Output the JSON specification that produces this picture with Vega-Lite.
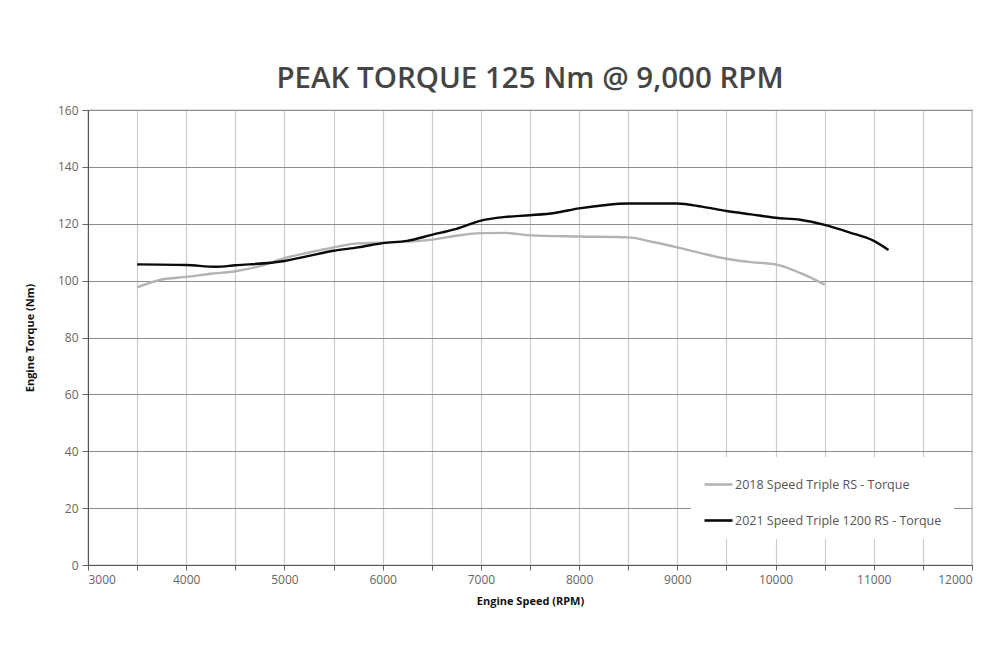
{
  "$schema": "https://vega.github.io/schema/vega-lite/v6.json",
  "description": "Peak torque curves, 2018 vs 2021 Speed Triple",
  "autosize": "none",
  "padding": {"left": 88, "top": 110, "right": 28, "bottom": 101},
  "width": 884,
  "height": 455,
  "background": "white",
  "title": {
    "text": "PEAK TORQUE 125 Nm @ 9,000 RPM",
    "font": "Open Sans",
    "fontSize": 29.5,
    "fontWeight": 600,
    "color": "#454545",
    "anchor": "middle",
    "offset": 10
  },
  "data": {
    "values": [
      {"rpm": 3500, "torque": 97.6, "model": "2018 Speed Triple RS - Torque"},
      {"rpm": 3750, "torque": 100.4, "model": "2018 Speed Triple RS - Torque"},
      {"rpm": 4000, "torque": 101.3, "model": "2018 Speed Triple RS - Torque"},
      {"rpm": 4250, "torque": 102.4, "model": "2018 Speed Triple RS - Torque"},
      {"rpm": 4500, "torque": 103.3, "model": "2018 Speed Triple RS - Torque"},
      {"rpm": 4750, "torque": 105.1, "model": "2018 Speed Triple RS - Torque"},
      {"rpm": 5000, "torque": 107.9, "model": "2018 Speed Triple RS - Torque"},
      {"rpm": 5250, "torque": 109.9, "model": "2018 Speed Triple RS - Torque"},
      {"rpm": 5500, "torque": 111.7, "model": "2018 Speed Triple RS - Torque"},
      {"rpm": 5750, "torque": 113.1, "model": "2018 Speed Triple RS - Torque"},
      {"rpm": 6000, "torque": 113.3, "model": "2018 Speed Triple RS - Torque"},
      {"rpm": 6250, "torque": 113.7, "model": "2018 Speed Triple RS - Torque"},
      {"rpm": 6500, "torque": 114.4, "model": "2018 Speed Triple RS - Torque"},
      {"rpm": 6750, "torque": 115.8, "model": "2018 Speed Triple RS - Torque"},
      {"rpm": 7000, "torque": 116.7, "model": "2018 Speed Triple RS - Torque"},
      {"rpm": 7250, "torque": 116.8, "model": "2018 Speed Triple RS - Torque"},
      {"rpm": 7500, "torque": 115.9, "model": "2018 Speed Triple RS - Torque"},
      {"rpm": 8000, "torque": 115.5, "model": "2018 Speed Triple RS - Torque"},
      {"rpm": 8500, "torque": 115.2, "model": "2018 Speed Triple RS - Torque"},
      {"rpm": 8750, "torque": 113.6, "model": "2018 Speed Triple RS - Torque"},
      {"rpm": 9000, "torque": 111.7, "model": "2018 Speed Triple RS - Torque"},
      {"rpm": 9250, "torque": 109.6, "model": "2018 Speed Triple RS - Torque"},
      {"rpm": 9500, "torque": 107.7, "model": "2018 Speed Triple RS - Torque"},
      {"rpm": 9750, "torque": 106.5, "model": "2018 Speed Triple RS - Torque"},
      {"rpm": 10000, "torque": 105.7, "model": "2018 Speed Triple RS - Torque"},
      {"rpm": 10250, "torque": 102.7, "model": "2018 Speed Triple RS - Torque"},
      {"rpm": 10500, "torque": 98.6, "model": "2018 Speed Triple RS - Torque"},
      {"rpm": 3500, "torque": 105.7, "model": "2021 Speed Triple 1200 RS - Torque"},
      {"rpm": 4000, "torque": 105.5, "model": "2021 Speed Triple 1200 RS - Torque"},
      {"rpm": 4300, "torque": 104.9, "model": "2021 Speed Triple 1200 RS - Torque"},
      {"rpm": 4500, "torque": 105.4, "model": "2021 Speed Triple 1200 RS - Torque"},
      {"rpm": 5000, "torque": 106.9, "model": "2021 Speed Triple 1200 RS - Torque"},
      {"rpm": 5250, "torque": 108.7, "model": "2021 Speed Triple 1200 RS - Torque"},
      {"rpm": 5500, "torque": 110.5, "model": "2021 Speed Triple 1200 RS - Torque"},
      {"rpm": 5750, "torque": 111.7, "model": "2021 Speed Triple 1200 RS - Torque"},
      {"rpm": 6000, "torque": 113.2, "model": "2021 Speed Triple 1200 RS - Torque"},
      {"rpm": 6250, "torque": 114.0, "model": "2021 Speed Triple 1200 RS - Torque"},
      {"rpm": 6500, "torque": 116.1, "model": "2021 Speed Triple 1200 RS - Torque"},
      {"rpm": 6750, "torque": 118.2, "model": "2021 Speed Triple 1200 RS - Torque"},
      {"rpm": 7000, "torque": 121.1, "model": "2021 Speed Triple 1200 RS - Torque"},
      {"rpm": 7250, "torque": 122.4, "model": "2021 Speed Triple 1200 RS - Torque"},
      {"rpm": 7500, "torque": 123.0, "model": "2021 Speed Triple 1200 RS - Torque"},
      {"rpm": 7750, "torque": 123.8, "model": "2021 Speed Triple 1200 RS - Torque"},
      {"rpm": 8000, "torque": 125.4, "model": "2021 Speed Triple 1200 RS - Torque"},
      {"rpm": 8250, "torque": 126.5, "model": "2021 Speed Triple 1200 RS - Torque"},
      {"rpm": 8500, "torque": 127.1, "model": "2021 Speed Triple 1200 RS - Torque"},
      {"rpm": 8750, "torque": 127.1, "model": "2021 Speed Triple 1200 RS - Torque"},
      {"rpm": 9000, "torque": 127.1, "model": "2021 Speed Triple 1200 RS - Torque"},
      {"rpm": 9250, "torque": 126.0, "model": "2021 Speed Triple 1200 RS - Torque"},
      {"rpm": 9500, "torque": 124.5, "model": "2021 Speed Triple 1200 RS - Torque"},
      {"rpm": 9750, "torque": 123.3, "model": "2021 Speed Triple 1200 RS - Torque"},
      {"rpm": 10000, "torque": 122.1, "model": "2021 Speed Triple 1200 RS - Torque"},
      {"rpm": 10250, "torque": 121.4, "model": "2021 Speed Triple 1200 RS - Torque"},
      {"rpm": 10500, "torque": 119.6, "model": "2021 Speed Triple 1200 RS - Torque"},
      {"rpm": 10750, "torque": 117.0, "model": "2021 Speed Triple 1200 RS - Torque"},
      {"rpm": 11000, "torque": 114.0, "model": "2021 Speed Triple 1200 RS - Torque"},
      {"rpm": 11150, "torque": 110.8, "model": "2021 Speed Triple 1200 RS - Torque"}
    ]
  },
  "mark": {"type": "line", "interpolate": "monotone", "strokeWidth": 2.4},
  "encoding": {
    "x": {
      "field": "rpm",
      "type": "quantitative",
      "scale": {"domain": [3000, 12000], "nice": false},
      "axis": {
        "title": "Engine Speed (RPM)",
        "values": [3000, 3500, 4000, 4500, 5000, 5500, 6000, 6500, 7000, 7500, 8000, 8500, 9000, 9500, 10000, 10500, 11000, 11500, 12000],
        "labelExpr": "datum.value % 1000 == 0 ? format(datum.value, 'd') : ''",
        "gridColor": "#cccccc",
        "gridWidth": 1.2,
        "domainColor": "#555555",
        "tickColor": "#666666",
        "tickSize": 5,
        "labelFont": "Open Sans",
        "labelFontSize": 12,
        "labelColor": "#666666",
        "labelPadding": 4,
        "titleFont": "Open Sans",
        "titleFontSize": 11,
        "titleFontWeight": "bold",
        "titleColor": "#111111",
        "titlePadding": 10
      }
    },
    "y": {
      "field": "torque",
      "type": "quantitative",
      "scale": {"domain": [0, 160], "nice": false},
      "axis": {
        "title": "Engine Torque (Nm)",
        "values": [0, 20, 40, 60, 80, 100, 120, 140, 160],
        "gridColor": "#8c8c8c",
        "gridWidth": 1.2,
        "domainColor": "#555555",
        "tickColor": "#666666",
        "tickSize": 6,
        "labelFont": "Open Sans",
        "labelFontSize": 12,
        "labelColor": "#666666",
        "labelPadding": 4,
        "titleFont": "Open Sans",
        "titleFontSize": 11,
        "titleFontWeight": "bold",
        "titleColor": "#111111",
        "titlePadding": 22
      }
    },
    "color": {
      "field": "model",
      "type": "nominal",
      "scale": {
        "domain": ["2018 Speed Triple RS - Torque", "2021 Speed Triple 1200 RS - Torque"],
        "range": ["#b3b3b3", "#0a0a0a"]
      },
      "legend": {
        "title": null,
        "orient": "none",
        "legendX": 603,
        "legendY": 347,
        "fillColor": "white",
        "padding": 12,
        "symbolType": "stroke",
        "symbolSize": 784,
        "symbolStrokeWidth": 2.6,
        "labelFont": "Open Sans",
        "labelFontSize": 12.5,
        "labelColor": "#555555",
        "labelOffset": 1,
        "labelLimit": 0,
        "rowPadding": 14
      }
    }
  },
  "config": {
    "view": {"stroke": "#8c8c8c", "strokeWidth": 1.2}
  }
}
